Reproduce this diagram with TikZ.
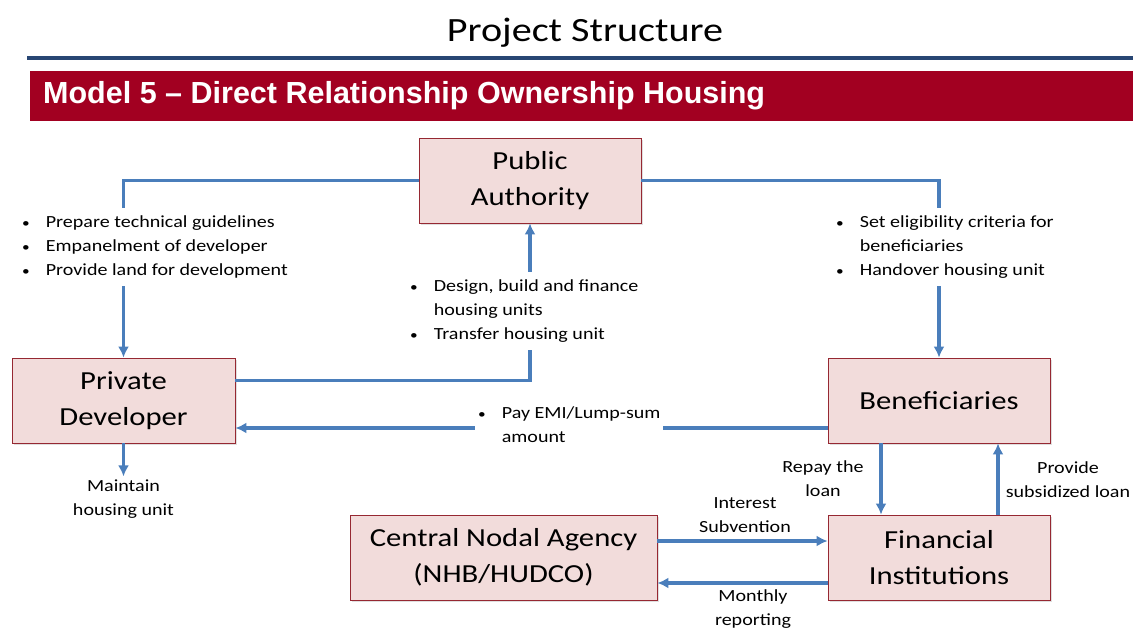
\documentclass[tikz,border=0pt]{standalone}
\usepackage{fontspec}
\setmainfont{Carlito}[FakeStretch=1.18]
\newfontfamily\bannerfont{Liberation Sans}
\usetikzlibrary{arrows.meta,positioning,shadows}
\definecolor{flowblue}{RGB}{74,126,187}
\definecolor{boxpink}{RGB}{242,220,219}
\definecolor{boxline}{RGB}{150,40,50}
\definecolor{bannerred}{RGB}{162,0,33}
\definecolor{rulenavy}{RGB}{40,70,115}
\newcommand{\bul}{{\fontsize{13}{13}\selectfont\textbullet}}
\newcommand{\blist}[1]{\begin{tabular}{@{}l@{\hspace{16pt}}l@{}}#1\end{tabular}}
\tikzset{
	box/.style = {draw=boxline, thick, fill=boxpink, minimum height=85pt, align=center,
		inner sep=0pt, font=\fontsize{26}{36}\selectfont,
		drop shadow={shadow xshift=2pt, shadow yshift=-2pt, opacity=0.25}},
	note/.style = {fill=white, align=center, inner sep=3pt, font=\fontsize{17}{24}\selectfont},
	flow/.style = {draw=flowblue, line width=3.5pt}
}

\begin{document}
\begin{tikzpicture}[x=1pt, y=-1pt, -{Latex[length=11pt,width=11pt]}]
	\useasboundingbox (0,0) rectangle (1133,628);
	% heading
	\node (title) at (585,33) {\fontsize{34}{40}\selectfont Project Structure};
	\draw[-, rulenavy, line width=4pt] (27,58) -- (1133,58);
	\fill[bannerred] (30,71) rectangle (1133,121);
	\node (model) [anchor=west, text=white, inner sep=0pt] at (43,96)
		{\bannerfont\bfseries\fontsize{30.5}{36}\selectfont Model 5 \textendash{} Direct Relationship Ownership Housing};
	% boxes
	\node (pa) [box, minimum width=222pt] at (530,180.5) {Public\\Authority};
	\node (pd) [box, minimum width=223pt] at (123.5,400.5) {Private\\Developer};
	\node (ben) [box, minimum width=222pt] at (939,400.5) {Beneficiaries};
	\node (fi) [box, minimum width=222pt] at (939,557.5) {Financial\\Institutions};
	\node (cna) [box, minimum width=307pt] at (503.5,557.5) {Central Nodal Agency\\(NHB/HUDCO)};
	% connectors
	\draw[flow] (pa.west) -| (pd.north);
	\draw[flow] (pa.east) -| (ben.north);
	\draw[flow] ([yshift=20pt]pd.east) -| (pa.south);
	\draw[flow] ([yshift=-27.5pt]ben.west) -- ([yshift=-27.5pt]pd.east);
	\draw[flow] ([xshift=-58pt]ben.south) -- ([xshift=-58pt]fi.north);
	\draw[flow] ([xshift=59pt]fi.north) -- ([xshift=59pt]ben.south);
	\draw[flow] ([yshift=16.5pt]cna.east) -- ([yshift=16.5pt]fi.west);
	\draw[flow] ([yshift=-25.5pt]fi.west) -- ([yshift=-25.5pt]cna.east);
	% labels
	\node (guide) [note, anchor=west] at (19,247)
		{\blist{\bul & Prepare technical guidelines\\ \bul & Empanelment of developer\\ \bul & Provide land for development}};
	\node (elig) [note, anchor=west] at (833,247)
		{\blist{\bul & Set eligibility criteria for\\ & beneficiaries\\ \bul & Handover housing unit}};
	\node (design) [note, anchor=west] at (407,311)
		{\blist{\bul & Design, build and finance\\ & housing units\\ \bul & Transfer housing unit}};
	\node (pay) [note, anchor=west] at (475,426)
		{\blist{\bul & Pay EMI/Lump-sum\\ & amount}};
	\node (maint) [note, below=33pt of pd] {Maintain\\housing unit};
	\draw[flow] (pd) -- (maint);
	\node (repay) [note] at (823,479) {Repay the\\loan};
	\node (provide) [note] at (1068,480) {Provide\\subsidized loan};
	\node (interest) [note] at (745,515) {Interest\\Subvention};
	\node (monthly) [note] at (753,609) {Monthly\\reporting};
\end{tikzpicture}
\end{document}
